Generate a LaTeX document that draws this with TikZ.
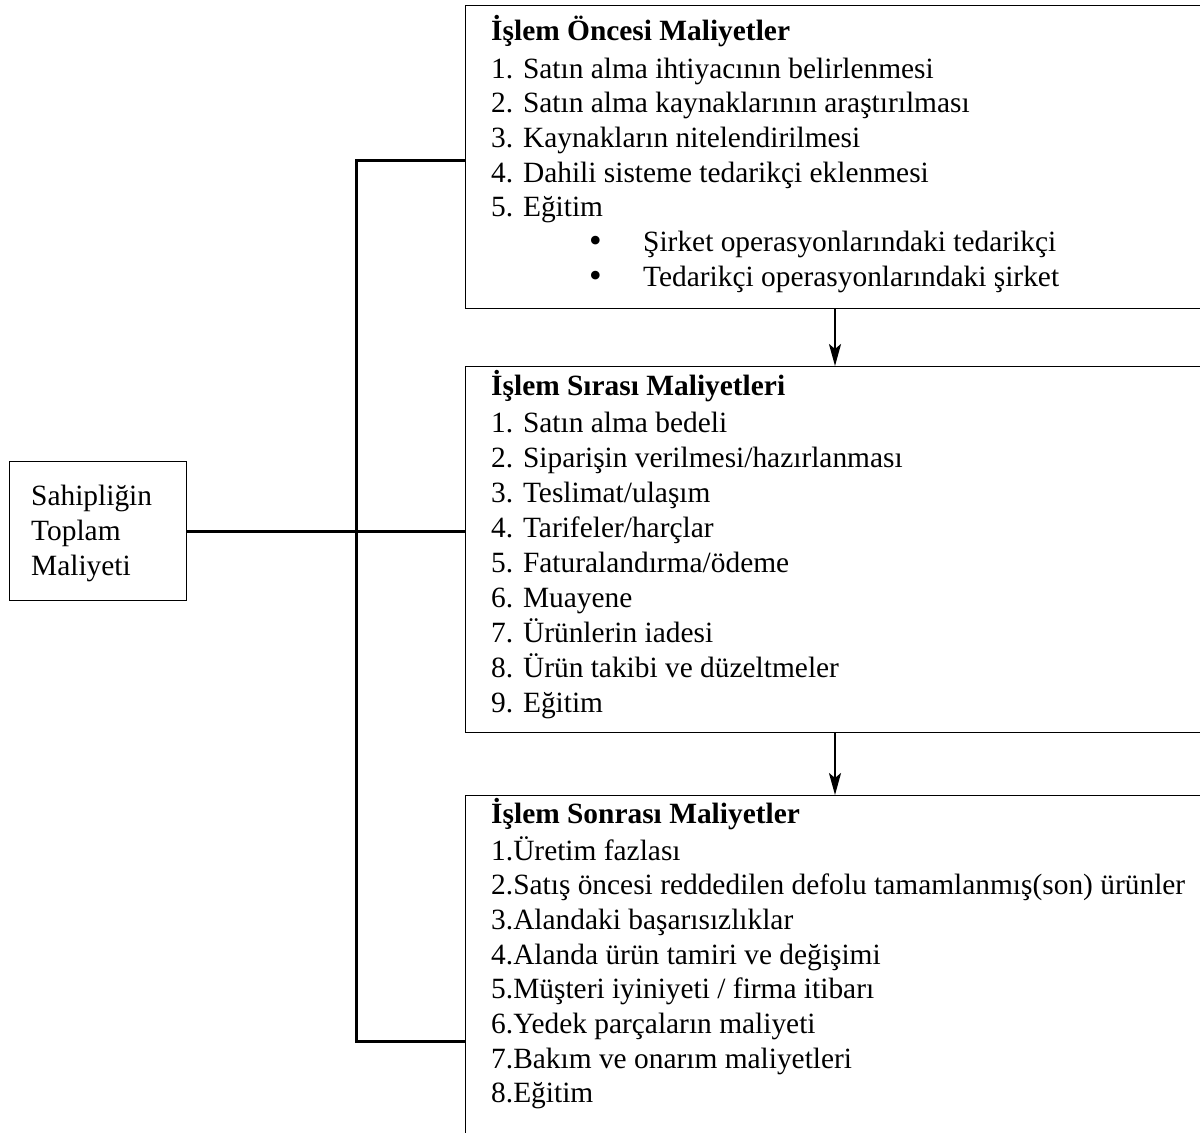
\documentclass[tikz,border=0pt]{standalone}
\usepackage{fontspec}
\setmainfont{Liberation Serif}
\usetikzlibrary{arrows.meta}
\newcommand\txtsize{\fontsize{29.4}{34.7}\selectfont}
\newcommand\bigbullet{\smash{\raisebox{-1pt}{\fontsize{36}{36}\selectfont\textbullet}}}
\begin{document}
\begin{tikzpicture}[x=1pt,y=-1pt,
  box/.style={draw, line width=1.3pt, inner sep=0pt, anchor=north west},
  lbl/.style={anchor=base west, inner sep=0pt, font=\txtsize},
  hd/.style={anchor=base west, inner sep=0pt, font=\txtsize\bfseries},
  link/.style={line width=3pt},
  arr/.style={line width=2.4pt, -{Stealth[length=22pt,width=12pt,inset=5pt]}}]
\useasboundingbox (0,0) rectangle (1200,1133);
% boxes
\node[box, minimum width=177pt, minimum height=139pt] (tco) at (9,461) {};
\node[box, minimum width=800pt, minimum height=303pt] (pre) at (465,5) {};
\node[box, minimum width=800pt, minimum height=366pt] (dur) at (465,366) {};
\node[box, minimum width=800pt, minimum height=338pt] (post) at (465,795) {};
% left box text
\node[lbl] (tco1) at (31,505) {Sahipliğin};
\node[lbl] (tco2) at (31,540) {Toplam};
\node[lbl] (tco3) at (31,575) {Maliyeti};
% box 1
\node[hd] (preh) at (491,40) {İşlem Öncesi Maliyetler};
\foreach \t [count=\i] in {{1. Satın alma ihtiyacının belirlenmesi},{2. Satın alma kaynaklarının araştırılması},{3. Kaynakların nitelendirilmesi},{4. Dahili sisteme tedarikçi eklenmesi},{5. Eğitim}}
  \node[lbl] (pre\i) at (491,{78+34.7*(\i-1)}) {\t};
\node[lbl] (preb1) at (589,251.5) {\bigbullet};
\node[lbl] (pres1) at (643,251.5) {Şirket operasyonlarındaki tedarikçi};
\node[lbl] (preb2) at (589,286) {\bigbullet};
\node[lbl] (pres2) at (643,286) {Tedarikçi operasyonlarındaki şirket};
% box 2
\node[hd] (durh) at (491,395) {İşlem Sırası Maliyetleri};
\foreach \t [count=\i] in {{1. Satın alma bedeli},{2. Siparişin verilmesi/hazırlanması},{3. Teslimat/ulaşım},{4. Tarifeler/harçlar},{5. Faturalandırma/ödeme},{6. Muayene},{7. Ürünlerin iadesi},{8. Ürün takibi ve düzeltmeler},{9. Eğitim}}
  \node[lbl] (dur\i) at (491,{432+35*(\i-1)}) {\t};
% box 3
\node[hd] (posth) at (491,823) {İşlem Sonrası Maliyetler};
\foreach \t [count=\i] in {{1.Üretim fazlası},{2.Satış öncesi reddedilen defolu tamamlanmış(son) ürünler},{3.Alandaki başarısızlıklar},{4.Alanda ürün tamiri ve değişimi},{5.Müşteri iyiniyeti / firma itibarı},{6.Yedek parçaların maliyeti},{7.Bakım ve onarım maliyetleri},{8.Eğitim}}
  \node[lbl] (post\i) at (491,{860+34.7*(\i-1)}) {\t};
% connectors
\coordinate (busx) at (356,0);
\coordinate (ya) at (0,160);
\coordinate (yb) at (0,1041);
\coordinate (ax) at (835,0);
\draw[link] (tco.east) -- (dur.west |- tco.east);
\draw[link] (pre.west |- ya) -- (busx |- ya) -- (busx |- yb) -- (post.west |- yb);
\draw[arr] (pre.south -| ax) -- (dur.north -| ax);
\draw[arr] (dur.south -| ax) -- (post.north -| ax);
\end{tikzpicture}
\end{document}
